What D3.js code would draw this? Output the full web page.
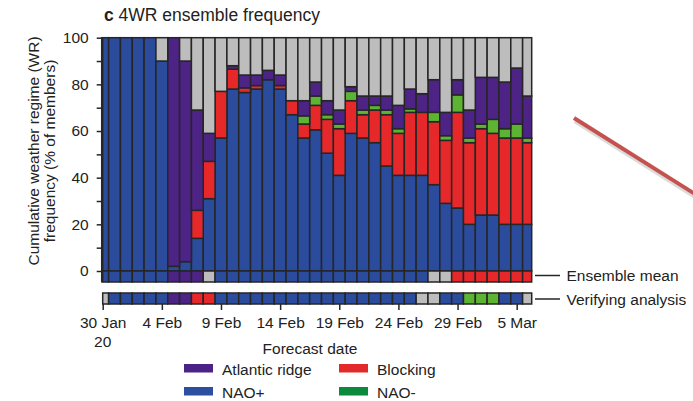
<!DOCTYPE html>
<html>
<head>
    <meta http-equiv="content-type" content="text/html; charset=utf-8" />
    <style>
        body { margin: 0; background: #fff; }
        svg text { font-family: "Liberation Sans", Arial, sans-serif; fill: #222; }
    </style>
</head>
<body>
    <svg id="chart" width="693" height="401"></svg>

    <script src="https://d3js.org/d3.v7.min.js"></script>
    <script>
        // forecast dates, 30 Jan .. 6 Mar 2020 (one bar per day)
        const dates = ['30 Jan','31 Jan','1 Feb','2 Feb','3 Feb','4 Feb','5 Feb','6 Feb','7 Feb','8 Feb',
            '9 Feb','10 Feb','11 Feb','12 Feb','13 Feb','14 Feb','15 Feb','16 Feb','17 Feb','18 Feb',
            '19 Feb','20 Feb','21 Feb','22 Feb','23 Feb','24 Feb','25 Feb','26 Feb','27 Feb','28 Feb',
            '29 Feb','1 Mar','2 Mar','3 Mar','4 Mar','5 Mar','6 Mar']
        const tickLabels = ['30 Jan','4 Feb','9 Feb','14 Feb','19 Feb','24 Feb','29 Feb','5 Mar']

        // % of members per regime (rest up to 100 = no regime)
        const naoPlus  = [100,100,100,100,100,90,2,4,14,31,57,78,76.5,78,82,78,67,57,60.5,50.5,41,59,57,55,45,41,41,41,37,29,27,20,24,24,20,20,20]
        const blocking = [0,0,0,0,0,0,0,0,12,16,20,8.5,2,1.5,0,1.5,6,6,10.5,14.5,20,14,10,14,22,18,27,27,27,27,41,35,37,35,37,37,35]
        const naoMinus = [0,0,0,0,0,0,0,0,0,0,0,0,0,0,0,0,0,3.5,4,2,2,4,2,2,2,2,1.5,0,4,2,7.5,2,2,6,4,6,2]
        const atlRidge = [0,0,0,0,0,0,98,86,43,12,0,1.5,5.5,4.5,4,4.5,0,6.5,6,6,6,2,6,4,6,10,8.5,8,14,10,6.5,12,20,18,20,24,18]

        // regime of ensemble mean and of verifying analysis
        const ensembleMean = ['NP','NP','NP','NP','NP','NP','AR','AR','AR','NO',
            'NP','NP','NP','NP','NP','NP','NP','NP','NP','NP','NP','NP','NP','NP','NP','NP','NP','NP',
            'NO','NO','BL','BL','BL','BL','BL','BL','BL']
        const verifying = ['NO','NP','NP','NP','NP','NP','AR','AR','BL','BL',
            'NP','NP','NP','NP','NP','NP','NP','NP','NP','NP','NP','NP','NP','NP','NP','NP','NP',
            'NO','NO','NP','NP','NM','NM','NM','NP','NP','NO']

        const colors = { NP: '#2b4b9c', BL: '#e6282b', NM: '#5db433', AR: '#4e2386', NO: '#bdbdbd' }
        const legendItems = [
            { label: 'Atlantic ridge', color: '#4b2286' },
            { label: 'Blocking', color: '#e32a2a' },
            { label: 'NAO+', color: '#2c4f9f' },
            { label: 'NAO-', color: '#0b8a3d' }
        ]

        const svg = d3.select('#chart')
        const stroke = '#262626'

        const x = d3.scaleLinear().domain([0, 35]).range([102.7, 516.7])
        const y = d3.scaleLinear().domain([0, 100]).range([271, 37.7])
        const xEnd = 531.7
        const left = i => Math.max(x(i - 0.5), x(0))
        const right = i => Math.min(x(i + 0.5), xEnd)

        const table = dates.map((d, i) => ({
            date: d,
            NP: naoPlus[i], BL: blocking[i], NM: naoMinus[i], AR: atlRidge[i],
            NO: 100 - naoPlus[i] - blocking[i] - naoMinus[i] - atlRidge[i]
        }))
        const stack = d3.stack().keys(['NP', 'BL', 'NM', 'AR', 'NO'])(table)

        // stacked bars
        svg.append('g').selectAll('g')
            .data(stack)
            .join('g')
            .attr('fill', s => colors[s.key])
            .selectAll('rect')
            .data(s => s.map((v, i) => ({ v, i })).filter(d => d.v[1] - d.v[0] > 0.01))
            .join('rect')
            .attr('x', d => left(d.i))
            .attr('width', d => right(d.i) - left(d.i))
            .attr('y', d => y(d.v[1]))
            .attr('height', d => y(d.v[0]) - y(d.v[1]))
            .attr('stroke', stroke)
            .attr('stroke-width', 1.5)

        // regime strips
        const strip = (data, top, h) => {
            svg.append('g').selectAll('rect')
                .data(data)
                .join('rect')
                .attr('x', (d, i) => left(i))
                .attr('width', (d, i) => right(i) - left(i))
                .attr('y', top)
                .attr('height', h)
                .attr('fill', d => colors[d])
                .attr('stroke', stroke)
                .attr('stroke-width', 1.5)
        }
        strip(ensembleMean, 271, 11)
        strip(verifying, 293, 11)

        // y axis
        const yAxis = svg.append('g')
            .attr('transform', 'translate(101.7,0)')
            .call(d3.axisLeft(y).tickValues(d3.range(0, 101, 10))
                .tickFormat(d => d % 20 === 0 ? d : '').tickSize(5).tickPadding(8))
        yAxis.select('.domain').remove()
        yAxis.selectAll('line').attr('stroke', stroke).attr('stroke-width', 1.5)
        yAxis.selectAll('text').style('font-size', '15.5px').attr('fill', '#222')
        svg.append('line')
            .attr('x1', 101.7).attr('x2', 101.7).attr('y1', 37).attr('y2', 282.5)
            .attr('stroke', stroke).attr('stroke-width', 1.5)

        // x axis
        const xAxis = svg.append('g')
            .attr('transform', 'translate(0,304)')
            .call(d3.axisBottom(x).tickValues(d3.range(0, 36, 5))
                .tickFormat((d, i) => tickLabels[i]).tickSize(6).tickPadding(7))
        xAxis.select('.domain').remove()
        xAxis.selectAll('line').attr('stroke', stroke).attr('stroke-width', 1.5)
        xAxis.selectAll('text').style('font-size', '15.5px').attr('fill', '#222')
        svg.append('text')
            .attr('x', x(0)).attr('y', 346.5)
            .attr('text-anchor', 'middle')
            .style('font-size', '15.5px')
            .text('20')

        // strip labels
        const stripLabels = [{ t: 'Ensemble mean', y: 275.5 }, { t: 'Verifying analysis', y: 299 }]
        stripLabels.forEach(s => {
            svg.append('line')
                .attr('x1', 535).attr('x2', 560).attr('y1', s.y).attr('y2', s.y)
                .attr('stroke', stroke).attr('stroke-width', 1.5)
            svg.append('text')
                .attr('x', 566.5).attr('y', s.y + 5.5)
                .style('font-size', '15.5px')
                .text(s.t)
        })

        // title
        const title = svg.append('text').attr('x', 104).attr('y', 21).style('font-size', '17.5px')
        title.append('tspan').attr('font-weight', 'bold').text('c')
        title.append('tspan').text(' 4WR ensemble frequency')

        // y label
        svg.append('text')
            .attr('transform', 'translate(38.5,151) rotate(-90)')
            .attr('text-anchor', 'middle')
            .style('font-size', '15.5px')
            .text('Cumulative weather regime (WR)')
        svg.append('text')
            .attr('transform', 'translate(55,151) rotate(-90)')
            .attr('text-anchor', 'middle')
            .style('font-size', '15.5px')
            .text('frequency (% of members)')

        // x label
        svg.append('text')
            .attr('x', 310).attr('y', 354)
            .attr('text-anchor', 'middle')
            .style('font-size', '15.5px')
            .text('Forecast date')

        // legend
        const leg = svg.append('g').selectAll('g')
            .data(legendItems)
            .join('g')
            .attr('transform', (d, i) => `translate(${i % 2 ? 339 : 184},${i < 2 ? 364 : 387})`)
        leg.append('rect').attr('width', 29).attr('height', 8.5).attr('fill', d => d.color)
        leg.append('text').attr('x', 38).attr('y', 11).style('font-size', '15.5px').text(d => d.label)

        // pen stroke across the corner
        svg.append('line')
            .attr('x1', 575).attr('y1', 121).attr('x2', 696).attr('y2', 197)
            .attr('stroke', '#999').attr('stroke-opacity', 0.35).attr('stroke-width', 5)
        svg.append('line')
            .attr('x1', 574).attr('y1', 118).attr('x2', 695).attr('y2', 194)
            .attr('stroke', '#c4524f').attr('stroke-width', 4)
    </script>
</body>
</html>
